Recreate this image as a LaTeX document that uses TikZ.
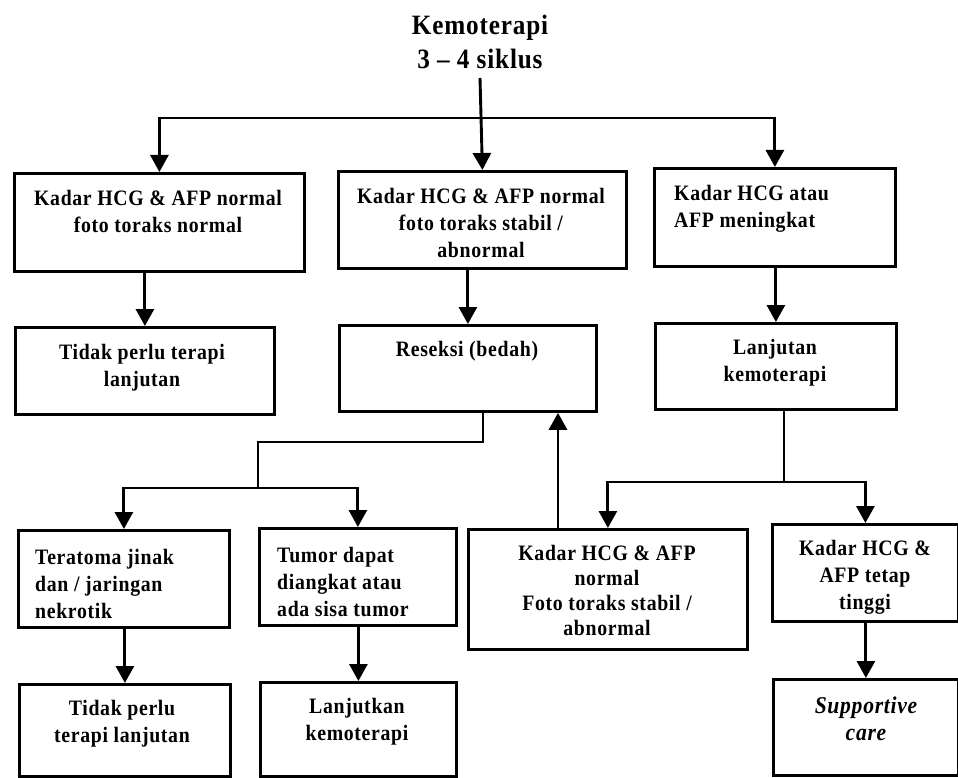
\documentclass[tikz,border=0pt]{standalone}
\usepackage{fontspec}
\setmainfont{Liberation Serif}[FakeStretch=0.9, LetterSpace=3]
\usetikzlibrary{arrows.meta,calc}
\begin{document}
\begin{tikzpicture}[x=1pt,y=-1pt,
  box/.style={draw, line width=2.8pt, inner sep=0pt, anchor=north west},
  txt/.style={font=\bfseries\fontsize{22}{27}\selectfont, align=center, inner sep=0pt},
  ltxt/.style={txt, align=left, anchor=west},
  conn/.style={line width=2.9pt},
  arr/.style={conn, -{Triangle[length=17pt,width=18pt]}},
]
\useasboundingbox (0,0) rectangle (958,778);
\fill[white] (0,0) rectangle (958,778);

% title
\node[font=\bfseries\fontsize{28}{34}\selectfont, align=center, inner sep=0pt] (title) at (480,41.5) {Kemoterapi\\3 -- 4 siklus};

% boxes
\node[box, minimum width=290pt, minimum height=98pt] (b1) at (13,172) {};
\node[box, minimum width=288pt, minimum height=97pt] (b2) at (337,170) {};
\node[box, minimum width=241pt, minimum height=98pt] (b3) at (653,167) {};
\node[box, minimum width=259pt, minimum height=87pt] (b4) at (14,326) {};
\node[box, minimum width=257pt, minimum height=86pt] (b5) at (338,324) {};
\node[box, minimum width=241pt, minimum height=86pt] (b6) at (654,322) {};
\node[box, minimum width=211pt, minimum height=97pt] (b7) at (17,529) {};
\node[box, minimum width=197pt, minimum height=97pt] (b8) at (258,527) {};
\node[box, minimum width=279pt, minimum height=120pt] (b9) at (467,528) {};
\node[box, minimum width=186pt, minimum height=97pt] (b10) at (771,523) {};
\node[box, minimum width=211pt, minimum height=92pt] (b11) at (18,683) {};
\node[box, minimum width=196pt, minimum height=94pt] (b12) at (259,681) {};
\node[box, minimum width=185pt, minimum height=96pt] (b13) at (772,678) {};

% texts
\node[txt] (t1) at (158,211) {Kadar HCG \& AFP normal\\foto toraks normal};
\node[txt] (t2) at (481,222.5) {Kadar HCG \& AFP normal\\foto toraks stabil /\\abnormal};
\node[ltxt] (t3) at (674,208.5) {Kadar HCG atau\\AFP meningkat};
\node[txt] (t4) at (142,368) {Tidak perlu terapi\\lanjutan};
\node[txt] (t5) at (467,351) {Reseksi (bedah)};
\node[txt] (t6) at (775,363) {Lanjutan\\kemoterapi};
\node[ltxt] (t7) at (35,583.5) {Teratoma jinak\\dan / jaringan\\nekrotik};
\node[ltxt] (t8) at (277,581.5) {Tumor dapat\\diangkat atau\\ada sisa tumor};
\node[txt, font=\bfseries\fontsize{22}{25}\selectfont] (t9) at (607,590) {Kadar HCG \& AFP\\normal\\Foto toraks stabil /\\abnormal};
\node[txt] (t10) at (865,577) {Kadar HCG \&\\AFP tetap\\tinggi};
\node[txt] (t11) at (122,723.5) {Tidak perlu\\terapi lanjutan};
\node[txt] (t12) at (357,721.5) {Lanjutkan\\kemoterapi};
\node[txt, font=\bfseries\itshape\fontsize{24}{27}\selectfont] (t13) at (866,718.5) {Supportive\\care};

% connectors
\coordinate (tbot) at (480,78);
\coordinate (bus) at (480,118);
\draw[arr] (tbot) -- (b2.north);
\draw[arr] (bus) -| (b1.north);
\draw[arr] (bus) -| (b3.north);

\draw[arr] (b1.south -| b4.north) -- (b4.north);
\draw[arr] (b2.south -| b5.north) -- (b5.north);
\draw[arr] (b3.south -| b6.north) -- (b6.north);

\coordinate (r1) at (483,442);
\coordinate (r2) at (258,488);
\draw[conn] (b5.south -| r1) -- (r1) -| (r2);
\draw[arr] (r2) -| (b7.north);
\draw[arr] (r2) -| (b8.north);

\coordinate (up) at (558,470);
\draw[arr] (b9.north -| up) -- (b5.south -| up);

\coordinate (s1) at (784,482);
\draw[conn] (b6.south -| s1) -- (s1);
\draw[arr] (s1) -| (b9.north);
\draw[arr] (s1) -| (b10.north);

\draw[arr] (b7.south -| b11.north) -- (b11.north);
\draw[arr] (b8.south -| b12.north) -- (b12.north);
\draw[arr] (b10.south -| b13.north) -- (b13.north);
\end{tikzpicture}
\end{document}
